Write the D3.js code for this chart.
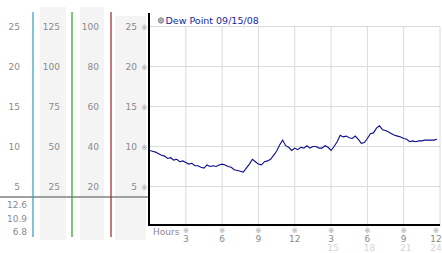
<!DOCTYPE html>
<html>
<head>
<meta charset="utf-8">
<script src="https://cdn.jsdelivr.net/npm/d3@7"></script>
<style>
  body { margin: 0; background: #fff; }
  text { font-family: "DejaVu Sans", Verdana, sans-serif; }
</style>
</head>
<body>
<div id="chart"></div>
<script>
// Dew point readings, one every 15 minutes from midnight
const dewPoint = [
    9.5, 9.4, 9.3, 9.1, 8.9, 8.8, 8.5, 8.6, 8.3, 8.4, 8.1, 8.2,
    8.0, 7.8, 7.9, 7.6, 7.6, 7.4, 7.3, 7.7, 7.5, 7.6, 7.5, 7.7,
    7.8, 7.7, 7.5, 7.4, 7.1, 7.0, 6.9, 6.8, 7.3, 7.8, 8.4, 8.1,
    7.8, 7.7, 8.1, 8.2, 8.4, 8.9, 9.4, 10.2, 10.8, 10.1, 9.9, 9.5,
    9.8, 9.6, 9.9, 9.8, 10.1, 9.8, 10.0, 10.0, 9.8, 9.8, 10.1, 9.9,
    9.5, 10.0, 10.6, 11.4, 11.2, 11.3, 11.1, 11.0, 11.3, 10.9, 10.4, 10.5,
    11.0, 11.6, 11.7, 12.3, 12.6, 12.1, 12.0, 11.8, 11.6, 11.4, 11.3, 11.2,
    11.0, 10.9, 10.6, 10.7, 10.6, 10.7, 10.7, 10.8, 10.8, 10.8, 10.8, 10.9
];
const stepHours = 0.25;

// left-hand scale columns
const tempTicks = [5, 10, 15, 20, 25];
const col2Ticks = [25, 50, 75, 100, 125];
const col3Ticks = [20, 40, 60, 80, 100];
const summary = ["12.6", "10.9", "6.8"];   // max, current, min

// x axis
const hourTicks = [3, 6, 9, 12, 15, 18, 21, 24];
const hourLabels = ["3", "6", "9", "12", "3", "6", "9", "12"];
const hourLabels2 = ["", "", "", "", "15", "18", "21", "24"];
const legendLabel = "Dew Point 09/15/08";

const W = 442, H = 253;
const svg = d3.select("#chart").append("svg")
    .attr("width", W)
    .attr("height", H);

const x = d3.scaleLinear().domain([0, 24]).range([149.5, 440]);
const y = d3.scaleLinear().domain([0, 25]).range([226.5, 26.5]);
const y2 = d3.scaleLinear().domain([0, 125]).range([226.5, 26.5]);
const y3 = d3.scaleLinear().domain([0, 100]).range([226.5, 26.5]);

// shaded columns
[[40, 7, 26], [80, 7, 24], [115, 16, 31]].forEach(([cx, top, w]) => {
    svg.append("rect")
        .attr("x", cx).attr("y", top)
        .attr("width", w).attr("height", 240 - top)
        .attr("fill", "#f4f4f4");
});

// gridlines
svg.append("g").selectAll("line")
    .data(tempTicks)
    .join("line")
    .attr("x1", x(0)).attr("x2", x(24))
    .attr("y1", d => y(d)).attr("y2", d => y(d))
    .attr("stroke", "#dadada");
svg.append("g").selectAll("line")
    .data(hourTicks)
    .join("line")
    .attr("x1", d => x(d)).attr("x2", d => x(d))
    .attr("y1", y(25)).attr("y2", y(0))
    .attr("stroke", "#dadada");

// separator under left columns
svg.append("line")
    .attr("x1", 0).attr("x2", 149)
    .attr("y1", 197).attr("y2", 197)
    .attr("stroke", "#a0a0a0").attr("stroke-width", 2);

// coloured column dividers
[[33, "#3fa3c4"], [72, "#3aa63a"], [111, "#a83232"]].forEach(([lx, c]) => {
    svg.append("line")
        .attr("x1", lx).attr("x2", lx)
        .attr("y1", 12).attr("y2", 237)
        .attr("stroke", c).attr("stroke-width", 1.3);
});

const labelColor = "#8a8a8a";
function column(ticks, scale, right) {
    svg.append("g").selectAll("text")
        .data(ticks)
        .join("text")
        .attr("x", right)
        .attr("y", d => scale(d) + 3)
        .attr("text-anchor", "end")
        .attr("font-size", 9)
        .attr("fill", labelColor)
        .text(d => d);
}
column(tempTicks, y, 20);
column(col2Ticks, y2, 60);
column(col3Ticks, y3, 99);
column(tempTicks, y, 137);

// tick markers next to axis
svg.append("g").selectAll("text")
    .data(tempTicks)
    .join("text")
    .attr("x", 144.5)
    .attr("y", d => y(d) + 3)
    .attr("text-anchor", "middle")
    .attr("font-size", 7.5)
    .attr("fill", "#a0a0a0")
    .text("※");

svg.append("g").selectAll("text")
    .data(summary)
    .join("text")
    .attr("x", 27)
    .attr("y", (d, i) => 208 + i * 13.5)
    .attr("text-anchor", "end")
    .attr("font-size", 9)
    .attr("fill", labelColor)
    .text(d => d);

// the dew point line
const line = d3.line()
    .x((d, i) => x(i * stepHours))
    .y(d => y(d));
svg.append("path")
    .datum(dewPoint)
    .attr("d", line)
    .attr("fill", "none")
    .attr("stroke", "#0c0c8a")
    .attr("stroke-width", 1.1);

// axes lines
svg.append("line")
    .attr("x1", 149).attr("x2", 149)
    .attr("y1", 13).attr("y2", 226)
    .attr("stroke", "#000").attr("stroke-width", 2);
svg.append("line")
    .attr("x1", 148).attr("x2", 440)
    .attr("y1", 225).attr("y2", 225)
    .attr("stroke", "#000").attr("stroke-width", 2);

// x labels
svg.append("text")
    .attr("x", 153).attr("y", 235)
    .attr("font-size", 9)
    .attr("fill", labelColor)
    .text("Hours");
const last = hourTicks.length - 1;
const xt = svg.append("g").selectAll("g")
    .data(hourTicks)
    .join("g")
    .attr("transform", (d, i) => `translate(${i === last ? x(d) - 4 : x(d)},0)`);
xt.append("text")
    .attr("y", 233)
    .attr("text-anchor", "middle")
    .attr("font-size", 7.5)
    .attr("fill", "#a0a0a0")
    .text("※");
xt.append("text")
    .attr("y", 242)
    .attr("text-anchor", "middle")
    .attr("font-size", 9)
    .attr("fill", labelColor)
    .text((d, i) => hourLabels[i]);
xt.append("text")
    .attr("x", (d, i) => i === last ? 0 : 2)
    .attr("y", 251)
    .attr("text-anchor", "middle")
    .attr("font-size", 9)
    .attr("fill", "#d4d4d4")
    .text((d, i) => hourLabels2[i]);

// legend
svg.append("circle")
    .attr("cx", 161).attr("cy", 20.5).attr("r", 2.7)
    .attr("fill", "#b0b0b0").attr("stroke", "#8c8c8c");
svg.append("text")
    .attr("x", 165.5).attr("y", 24)
    .attr("font-size", 9.5)
    .attr("fill", "#1a2a9c")
    .text(legendLabel);
</script>
</body>
</html>
